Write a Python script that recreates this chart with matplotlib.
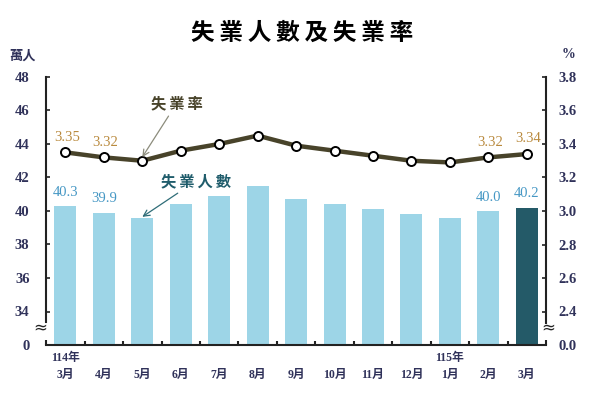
"""Unemployed persons (bars) and unemployment rate (line), 114/3 - 115/3."""

import matplotlib
matplotlib.use("Agg")
import matplotlib.pyplot as plt
import numpy as np
from matplotlib.ticker import FixedLocator, FuncFormatter

# ---------------------------------------------------------------------------
# Data
# ---------------------------------------------------------------------------
months = ["114年\n3月", "\n4月", "\n5月", "\n6月", "\n7月", "\n8月", "\n9月",
          "\n10月", "\n11月", "\n12月", "115年\n1月", "\n2月", "\n3月"]
unemployed = [40.3, 39.9, 39.6, 40.4, 40.9, 41.5, 40.7,
              40.4, 40.1, 39.8, 39.6, 40.0, 40.2]          # 萬人
rate = [3.35, 3.32, 3.30, 3.36, 3.40, 3.45, 3.39,
        3.36, 3.33, 3.30, 3.29, 3.32, 3.34]                # %

bar_label_idx = [0, 1, 11, 12]
rate_label_idx = [0, 1, 11, 12]

left_ticks = [0, 34, 36, 38, 40, 42, 44, 46, 48]
right_ticks = [0.0, 2.4, 2.6, 2.8, 3.0, 3.2, 3.4, 3.6, 3.8]

# thin spaces between characters to mimic the letter spacing
TITLE = "\u2009".join("失業人數及失業率")
RATE_NAME = "\u2009".join("失業率")
COUNT_NAME = "\u2009".join("失業人數")

# Colours
BAR_LIGHT = "#9dd5e7"
BAR_DARK = "#245a68"
LINE_COL = "#48432a"
RATE_TXT = "#b98a3e"
BAR_TXT = "#4597c4"
TICK_COL = "#30325a"
SPINE_COL = "#222222"

SERIF = ["Liberation Serif", "Noto Sans CJK TC"]
CJK = ["Noto Sans CJK TC", "DejaVu Sans"]


# ---------------------------------------------------------------------------
# Broken axis scales (0 .. gap .. 34-48 / 0.0 .. gap .. 2.4-3.8)
# ---------------------------------------------------------------------------

def fwd_left(v):
    v = np.asarray(v, dtype=float)
    return np.where(v < 34, v * 2.0 / 34.0, v - 32.0)


def inv_left(p):
    p = np.asarray(p, dtype=float)
    return np.where(p < 2, p * 34.0 / 2.0, p + 32.0)


def fwd_right(r):
    r = np.asarray(r, dtype=float)
    return np.where(r < 2.4, r * 2.0 / 2.4, (r - 2.2) * 10.0)


def inv_right(p):
    p = np.asarray(p, dtype=float)
    return np.where(p < 2, p * 1.2, p / 10.0 + 2.2)


def main() -> None:
    fig = plt.figure(figsize=(6, 4), dpi=100)
    ax = fig.add_axes([0.077, 0.1375, 0.833, 0.67])
    ax2 = ax.twinx()

    ax.set_yscale("function", functions=(fwd_left, inv_left))
    ax2.set_yscale("function", functions=(fwd_right, inv_right))

    x = np.arange(len(months))
    colors = [BAR_LIGHT] * (len(months) - 1) + [BAR_DARK]
    ax.bar(x, unemployed, width=0.57, color=colors, zorder=2)

    ax2.plot(x, rate, color=LINE_COL, lw=3.2, marker="o", ms=6.5,
             mfc="white", mec="black", mew=1.4, zorder=3)

    # value labels
    for i in bar_label_idx:
        ax.annotate(f"{unemployed[i]:.1f}", (x[i], unemployed[i]),
                    xytext=(0, 10), textcoords="offset points",
                    ha="center", va="center", fontsize=10.5,
                    family=SERIF, color=BAR_TXT)
    for i in rate_label_idx:
        ax2.annotate(f"{rate[i]:.2f}", (x[i], rate[i]),
                     xytext=(1, 11), textcoords="offset points",
                     ha="center", va="center", fontsize=10.5,
                     family=SERIF, color=RATE_TXT)

    # series callouts
    ax2.annotate(RATE_NAME, xy=(2.0, 3.322), xytext=(2.9, 3.645),
                 ha="center", va="center", fontsize=11, weight="bold",
                 family=CJK, color=LINE_COL,
                 arrowprops=dict(arrowstyle="->", color="#8c8c7c", lw=0.9,
                                 shrinkA=2, shrinkB=0))
    ax.annotate(COUNT_NAME, xy=(2.0, 39.65), xytext=(3.4, 41.8),
                ha="center", va="center", fontsize=11, weight="bold",
                family=CJK, color="#1f5c6b",
                arrowprops=dict(arrowstyle="->", color="#2f6d78", lw=0.9,
                                shrinkA=2, shrinkB=0))

    # limits
    ax.set_xlim(-0.5, len(months) - 0.5)
    ax.set_ylim(0, 48)
    ax2.set_ylim(0, 3.8)

    # y ticks
    ax.yaxis.set_major_locator(FixedLocator(left_ticks))
    ax.yaxis.set_major_formatter(FuncFormatter(lambda v, _: f"{v:.0f}"))
    ax2.yaxis.set_major_locator(FixedLocator(right_ticks))
    ax2.yaxis.set_major_formatter(FuncFormatter(lambda v, _: f"{v:.1f}"))
    ax.yaxis.set_minor_locator(FixedLocator([]))
    ax2.yaxis.set_minor_locator(FixedLocator([]))

    ax.tick_params(axis="y", direction="in", length=3, width=1.2,
                   color=SPINE_COL, pad=12, labelsize=10.5, labelcolor=TICK_COL)
    ax2.tick_params(axis="y", direction="in", length=3, width=1.2,
                    color=SPINE_COL, pad=9, labelsize=10.5, labelcolor=TICK_COL)
    for lab in ax.get_yticklabels() + ax2.get_yticklabels():
        lab.set_family(SERIF)
        lab.set_weight("bold")

    # x ticks: marks between bars, labels under bars
    ax.xaxis.set_major_locator(FixedLocator(x[:-1] + 0.5))
    ax.xaxis.set_major_formatter(FuncFormatter(lambda v, _: ""))
    ax.xaxis.set_minor_locator(FixedLocator(x))
    ax.set_xticklabels(months, minor=True)
    ax.tick_params(axis="x", which="major", direction="in", length=3,
                   width=1.5, color=SPINE_COL)
    ax.tick_params(axis="x", which="minor", length=0, pad=5,
                   labelsize=8.5, labelcolor=TICK_COL)
    for lab in ax.get_xticklabels(minor=True):
        lab.set_family(SERIF)
        lab.set_weight("bold")
        lab.set_linespacing(1.55)

    # spines
    for s in ["top", "right"]:
        ax.spines[s].set_visible(False)
    for s in ["top", "left", "bottom"]:
        ax2.spines[s].set_visible(False)
    ax.spines["left"].set_bounds(23, 48)
    ax2.spines["right"].set_bounds(1.6, 3.8)
    for sp in (ax.spines["left"], ax.spines["bottom"], ax2.spines["right"]):
        sp.set_color(SPINE_COL)
        sp.set_linewidth(1.5)

    # short spine stubs below the axis break
    ax.plot([0, 0], [0, 5], transform=ax.get_yaxis_transform(),
            color=SPINE_COL, lw=1.5, clip_on=False, solid_capstyle="butt")
    ax2.plot([1, 1], [0, 0.35], transform=ax2.get_yaxis_transform(),
             color=SPINE_COL, lw=1.5, clip_on=False, solid_capstyle="butt")

    # break symbols
    ax.text(-0.012, 17.5, "≈", transform=ax.get_yaxis_transform(),
            ha="center", va="center", fontsize=12, color=SPINE_COL)
    ax2.text(1.004, 1.23, "≈", transform=ax2.get_yaxis_transform(),
             ha="center", va="center", fontsize=12, color=SPINE_COL)

    # units and title
    fig.text(0.037, 0.862, "萬人", ha="center", va="center", fontsize=9.5,
             weight="bold", family=CJK, color=TICK_COL)
    fig.text(0.948, 0.865, "%", ha="center", va="center", fontsize=10,
             weight="bold", family=SERIF, color=TICK_COL)
    fig.text(0.503, 0.917, TITLE, ha="center", va="center",
             fontsize=17, weight="bold", family=CJK, color="black")

    fig.savefig("out.png", dpi=100)
    plt.close(fig)


if __name__ == "__main__":
    main()
